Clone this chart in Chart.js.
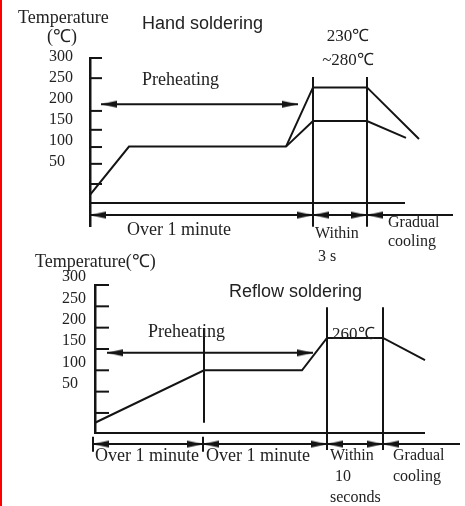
<!DOCTYPE html>
<html>
<head>
<meta charset="utf-8">
<script src="https://cdn.jsdelivr.net/npm/chart.js@4.4.0/dist/chart.umd.min.js"></script>
<style>
  html, body { margin: 0; padding: 0; background: #fff; }
  #wrap { position: relative; width: 465px; height: 506px; overflow: hidden; }
  #wrap canvas { position: absolute; left: 0; top: 0; }
  #edge { position: absolute; left: 0; top: 0; width: 2px; height: 506px; background: #f00; }
</style>
</head>
<body>
<div id="wrap">
  <canvas id="hand" width="465" height="506"></canvas>
  <canvas id="reflow" width="465" height="506"></canvas>
  <div id="edge"></div>
</div>
<script>
// temperature axis
const yTicks = [0, 50, 100, 150, 200, 250, 300];
const yLabels = ['', '50', '100', '150', '200', '250', '300'];

// hand soldering profile (time in arbitrary units, temperature in the drawing's scale)
const handLowT = [0, 39, 196, 223, 277, 316];
const handLowV = [-26, 89, 89, 150, 150, 110];
const handHighT = [196, 223, 277, 329];
const handHighV = [89, 230, 230, 107];
const handTickMarks = [0, 48, 88, 129, 174, 252, 300];
const handPhases = [223, 277];
const handSpanT = [0, 223, 223, 277, 277, 363];
const handSpanDir = ['L', 'R', 'L', 'R', 'L', ''];
const handPreheatT = [11, 208];

// reflow soldering profile
const reflowT = [0, 109, 207, 232, 288, 330];
const reflowV = [-23, 100, 100, 176, 176, 124];
const reflowPhases = [232, 288];
const reflowSpanT = [-2, 108, 108, 232, 232, 288, 288, 365];
const reflowSpanDir = ['L', 'R', 'L', 'R', 'L', 'R', 'L', ''];
const reflowPreheatT = [12, 218];

const INK = '#141414';
const TXT = '#222';
const SERIF = '"Liberation Serif", "Times New Roman", serif';
const SANS = '"Liberation Sans", Arial, sans-serif';

function arrowHead(len, half) {
  const c = document.createElement('canvas');
  c.width = len * 2;
  c.height = half * 2 + 2;
  const g = c.getContext('2d');
  g.fillStyle = INK;
  g.beginPath();
  g.moveTo(len, half + 1);
  g.lineTo(0, 1);
  g.lineTo(0, half * 2 + 1);
  g.closePath();
  g.fill();
  return c;
}
const head = arrowHead(16, 3.5);

function seg(xs, ys, w) {
  return {
    data: xs.map((x, i) => ({ x: x, y: ys[i] })),
    borderColor: INK, borderWidth: w || 2, pointRadius: 0, clip: false, fill: false
  };
}

function dimLine(xs, y, dirs) {
  return {
    data: xs.map(x => ({ x: x, y: y })),
    borderColor: INK, borderWidth: 2, clip: false, fill: false,
    pointStyle: head,
    pointRadius: dirs.map(d => d ? 22 : 0),
    pointRotation: dirs.map(d => d === 'L' ? 180 : 0)
  };
}

const extras = {
  id: 'extras',
  afterDraw(chart, args, opts) {
    const { ctx, chartArea, scales: { x, y } } = chart;
    ctx.save();
    ctx.strokeStyle = INK;
    ctx.lineWidth = 2;
    opts.marks.forEach(v => {
      const py = y.getPixelForValue(v);
      ctx.beginPath();
      ctx.moveTo(chartArea.left, py);
      ctx.lineTo(chartArea.left + opts.markLen, py);
      ctx.stroke();
    });
    ctx.fillStyle = TXT;
    ctx.textBaseline = 'middle';
    opts.texts.forEach(t => {
      ctx.font = t.f;
      ctx.textAlign = t.a || 'left';
      ctx.fillText(t.t, x.getPixelForValue(t.x), y.getPixelForValue(t.y));
    });
    ctx.restore();
  }
};

function makeChart(id, c) {
  return new Chart(document.getElementById(id), {
    type: 'line',
    data: { datasets: c.datasets },
    options: {
      responsive: false,
      animation: false,
      events: [],
      layout: { padding: c.padding, autoPadding: false },
      plugins: {
        legend: { display: false },
        tooltip: { enabled: false },
        extras: { marks: c.marks, markLen: c.markLen, texts: c.texts }
      },
      scales: {
        x: { type: 'linear', display: false, min: c.xMin, max: c.xMax },
        y: {
          type: 'linear', min: c.yMin, max: 300,
          afterBuildTicks: s => { s.ticks = yTicks.map(v => ({ value: v })); },
          afterFit: s => { s.width = c.axisWidth; },
          grid: { display: false, drawTicks: false },
          border: { display: true, width: 2.5, color: INK },
          ticks: {
            crossAlign: 'far', padding: 0, color: TXT, labelOffset: c.labelOffset,
            font: { family: SERIF, size: 16 },
            callback: (v, i) => yLabels[i]
          }
        }
      }
    },
    plugins: [extras]
  });
}

const s18 = '18px ' + SERIF;
const s16 = '16px ' + SERIF;
const h18 = '18px ' + SANS;

makeChart('hand', {
  padding: { left: 49, top: 58, right: 0, bottom: 280 },
  axisWidth: 41, xMin: 0, xMax: 375, yMin: -100, labelOffset: -1,
  marks: handTickMarks, markLen: 12,
  datasets: [
    seg(handLowT, handLowV),
    seg(handHighT, handHighV),
    seg([0, 315], [-45, -45]),
    seg([handPhases[0], handPhases[0]], [255, -102]),
    seg([handPhases[1], handPhases[1]], [255, -102]),
    dimLine(handSpanT, -74, handSpanDir),
    dimLine(handPreheatT, 190, ['L', 'R'])
  ],
  texts: [
    { t: 'Temperature', x: -72, y: 395, f: s18 },
    { t: '(℃)', x: -28, y: 350, f: s18, a: 'center' },
    { t: 'Hand soldering', x: 52, y: 381, f: h18 },
    { t: '230℃', x: 258, y: 350, f: '17px ' + SERIF, a: 'center' },
    { t: '~280℃', x: 258, y: 293, f: '17px ' + SERIF, a: 'center' },
    { t: 'Preheating', x: 52, y: 248, f: s18 },
    { t: 'Over 1 minute', x: 37, y: -110, f: s18 },
    { t: 'Within', x: 225, y: -119, f: s16 },
    { t: '3 s', x: 228, y: -174, f: s16 },
    { t: 'Gradual', x: 298, y: -93, f: s16 },
    { t: 'cooling', x: 298, y: -138, f: s16 }
  ]
});

makeChart('reflow', {
  padding: { left: 62, top: 285, right: 0, bottom: 73 },
  axisWidth: 33, xMin: 0, xMax: 370, yMin: -47, labelOffset: -8,
  marks: yTicks, markLen: 14,
  datasets: [
    seg(reflowT, reflowV),
    seg([0, 330], [-47, -47]),
    seg([109, 109], [199, -23]),
    seg([reflowPhases[0], reflowPhases[0]], [248, -87]),
    seg([reflowPhases[1], reflowPhases[1]], [248, -87]),
    seg([-2, -2], [-56, -91]),
    seg([108, 108], [-56, -91]),
    dimLine(reflowSpanT, -73, reflowSpanDir),
    dimLine(reflowPreheatT, 141, ['L', 'R'])
  ],
  texts: [
    { t: 'Temperature(℃)', x: -60, y: 354, f: s18 },
    { t: 'Reflow soldering', x: 134, y: 284, f: h18 },
    { t: 'Preheating', x: 53, y: 190, f: s18 },
    { t: '260℃', x: 237, y: 183, f: '17px ' + SERIF },
    { t: 'Over 1 minute', x: 0, y: -101, f: s18 },
    { t: 'Over 1 minute', x: 111, y: -101, f: s18 },
    { t: 'Within', x: 235, y: -101, f: s16 },
    { t: '10', x: 240, y: -150, f: s16 },
    { t: 'seconds', x: 235, y: -199, f: s16 },
    { t: 'Gradual', x: 298, y: -101, f: s16 },
    { t: 'cooling', x: 298, y: -150, f: s16 }
  ]
});
</script>
</body>
</html>
